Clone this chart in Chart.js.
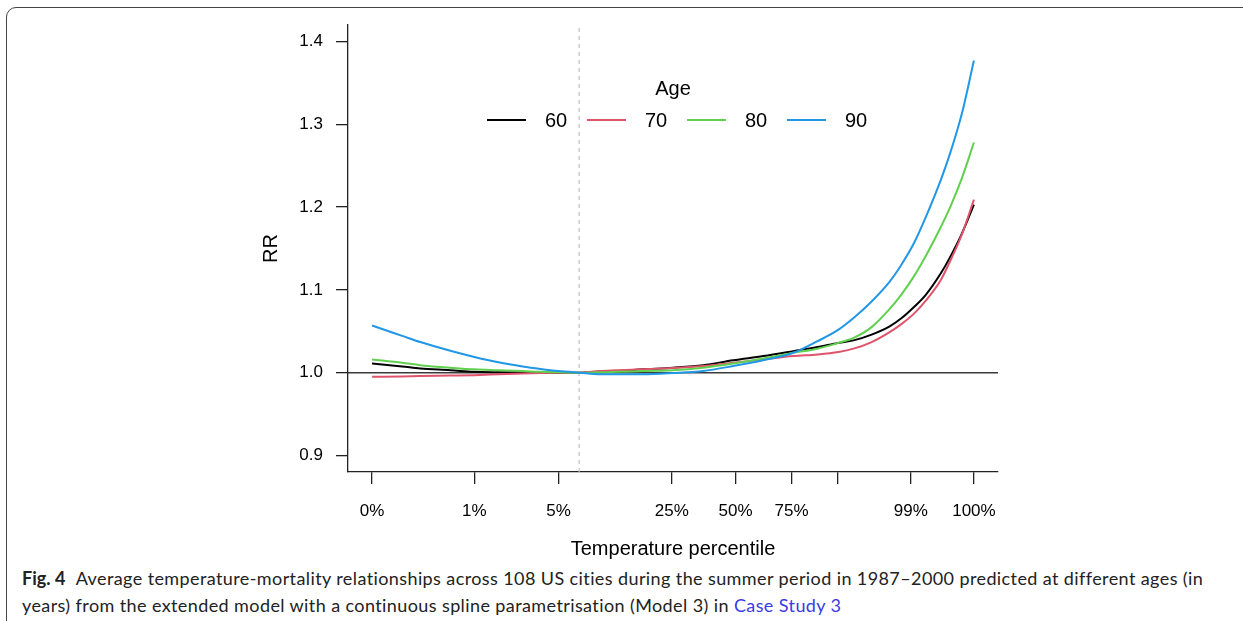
<!DOCTYPE html>
<html>
<head>
<meta charset="utf-8">
<script src="https://cdn.jsdelivr.net/npm/chart.js@4.4.1/dist/chart.umd.min.js"></script>
<style>
  html, body { margin: 0; padding: 0; background: #fff; overflow: hidden; }
  #frame {
    position: absolute; left: 6px; top: 7px; width: 1300px; height: 700px;
    border: 1px solid #444; border-radius: 10px; box-sizing: border-box;
  }
  #chart { position: absolute; left: 0; top: 0; }
  #caption {
    position: absolute; left: 22px; top: 565px; width: 1215px; white-space: nowrap;
    font-family: Lato, "Open Sans", sans-serif; font-size: 18px; line-height: 27px; color: #222;
    letter-spacing: 0.4px;
  }
  #caption b { font-weight: bold; margin-right: 6px; letter-spacing: 0; }
  #caption span { color: #3a3ae6; }
</style>
</head>
<body>
<div id="frame"></div>
<canvas id="chart" width="1243" height="565"></canvas>
<div id="caption"><b>Fig. 4</b> Average temperature-mortality relationships across 108 US cities during the summer period in 1987–2000 predicted at different ages (in<br>years) from the extended model with a continuous spline parametrisation (Model 3) in <span>Case Study 3</span></div>
<script>
// x positions on the temperature axis (0 = 0th percentile, 100 = 100th percentile)
const temp = [0, 5, 8, 13, 17, 21, 25, 28, 31, 34.4, 38, 41, 45, 50, 55, 60, 65, 70, 74, 77.5, 80, 83, 86, 88, 90, 92, 94.5, 96, 98, 100];

const rr60 = [1.011, 1.0075, 1.005, 1.003, 1.001, 1.0005, 1.0002, 1.0001, 1.0, 1.0, 1.0015, 1.002, 1.004, 1.006, 1.009, 1.015, 1.020, 1.026, 1.031, 1.036, 1.039, 1.046, 1.056, 1.066, 1.079, 1.094, 1.120, 1.139, 1.168, 1.203];
const rr70 = [0.995, 0.9955, 0.996, 0.9965, 0.997, 0.998, 0.999, 0.9995, 0.9998, 1.0, 1.002, 1.003, 1.004, 1.0055, 1.008, 1.012, 1.016, 1.020, 1.022, 1.025, 1.029, 1.037, 1.049, 1.059, 1.071, 1.087, 1.112, 1.134, 1.167, 1.209];
const rr80 = [1.016, 1.012, 1.009, 1.006, 1.004, 1.003, 1.002, 1.001, 1.0005, 1.0, 1.0005, 1.001, 1.002, 1.003, 1.006, 1.011, 1.017, 1.024, 1.029, 1.036, 1.042, 1.055, 1.077, 1.095, 1.116, 1.141, 1.176, 1.199, 1.235, 1.278];
const rr90 = [1.057, 1.0445, 1.037, 1.0265, 1.019, 1.0125, 1.0075, 1.0045, 1.002, 1.0, 0.998, 0.998, 0.998, 0.9995, 1.002, 1.008, 1.015, 1.024, 1.038, 1.052, 1.066, 1.086, 1.110, 1.131, 1.156, 1.188, 1.233, 1.264, 1.313, 1.377];

const ages = ['60', '70', '80', '90'];
const colors = ['#000000', '#DF536B', '#61D04F', '#2297E6'];

const xTickVals = [0, 17, 31, 49.8, 60.4, 69.7, 77.4, 89.5, 100];
const xTickLabels = ['0%', '1%', '5%', '25%', '50%', '75%', '', '99%', '100%'];
const yTickVals = [0.9, 1.0, 1.1, 1.2, 1.3, 1.4];
const mmt = 34.4; // minimum mortality temperature (dashed line)

const pts = (ys) => ys.map((y, i) => ({ x: temp[i], y: y }));
const font = 'Liberation Sans, Arial, sans-serif';

const curves = [rr60, rr70, rr80, rr90].map((ys, i) => ({
  label: ages[i],
  data: pts(ys),
  borderColor: colors[i],
  borderWidth: 2,
  pointRadius: 0,
  cubicInterpolationMode: 'monotone',
  order: 4 - i
}));

const refLines = [
  { label: 'ref', data: [{ x: -4, y: 1 }, { x: 104, y: 1 }], borderColor: '#3a3a3a', borderWidth: 1.5, pointRadius: 0, order: 10 },
  { label: 'mmt', data: [{ x: mmt, y: 0.88 }, { x: mmt, y: 1.42 }], borderColor: '#bdbdbd', borderWidth: 1.2, borderDash: [4, 4], pointRadius: 0, order: 11 }
];

const legendPlugin = {
  id: 'ageLegend',
  afterDatasetsDraw(chart) {
    const c = chart.ctx;
    c.save();
    c.font = '20px ' + font;
    c.fillStyle = '#000';
    c.textAlign = 'center';
    c.textBaseline = 'middle';
    c.fillText('Age', 673, 89);
    const lineX = [487, 587, 687, 787];
    ages.forEach((a, i) => {
      c.strokeStyle = colors[i];
      c.lineWidth = 2;
      c.beginPath();
      c.moveTo(lineX[i], 120);
      c.lineTo(lineX[i] + 39, 120);
      c.stroke();
      c.fillText(a, lineX[i] + 69, 121);
    });
    c.restore();
  }
};

new Chart(document.getElementById('chart'), {
  type: 'line',
  data: { datasets: curves.concat(refLines) },
  plugins: [legendPlugin],
  options: {
    responsive: false,
    animation: false,
    devicePixelRatio: 1,
    layout: { padding: { left: 250, right: 245, top: 25, bottom: 0 } },
    plugins: { legend: { display: false }, tooltip: { enabled: false } },
    scales: {
      x: {
        type: 'linear',
        min: -4,
        max: 104,
        afterFit: (s) => { s.height = 93; },
        afterBuildTicks: (s) => { s.ticks = xTickVals.map(v => ({ value: v })); },
        ticks: {
          autoSkip: false,
          maxRotation: 0,
          padding: 17,
          color: '#000',
          font: { family: font, size: 17 },
          callback: (v, i) => xTickLabels[i]
        },
        grid: { drawOnChartArea: false, drawTicks: true, tickLength: 12, color: '#222', lineWidth: 1.3 },
        border: { display: true, color: '#222', width: 1.3 },
        title: { display: true, text: 'Temperature percentile', color: '#000', font: { family: font, size: 20 }, padding: { top: 0, bottom: 4 } }
      },
      y: {
        min: 0.88,
        max: 1.42,
        afterFit: (s) => { s.width = 98; },
        afterBuildTicks: (s) => { s.ticks = yTickVals.map(v => ({ value: v })); },
        ticks: {
          padding: 13,
          color: '#000',
          font: { family: font, size: 17 },
          callback: (v) => v.toFixed(1)
        },
        grid: { drawOnChartArea: false, drawTicks: true, tickLength: 12, color: '#222', lineWidth: 1.3 },
        border: { display: true, color: '#222', width: 1.3 },
        title: { display: true, text: 'RR', color: '#000', font: { family: font, size: 20 }, padding: { top: 9, bottom: 0 } }
      }
    }
  }
});
</script>
</body>
</html>
